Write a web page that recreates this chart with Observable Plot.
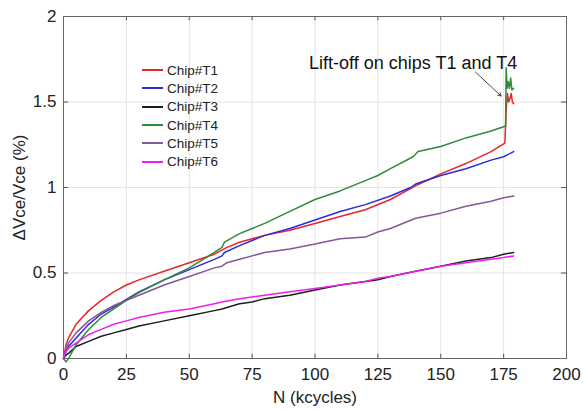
<!DOCTYPE html>
<html>
<head>
<meta charset="utf-8">
<script src="https://cdn.jsdelivr.net/npm/d3@7"></script>
<script src="https://cdn.jsdelivr.net/npm/@observablehq/plot@0.6"></script>
<style>
  body { margin: 0; background: #fff; font-family: "Liberation Sans", Arial, sans-serif; }
  #wrap { position: relative; width: 583px; height: 410px; }
  #legend { position: absolute; left: 142px; top: 61px; font-size: 13.5px; color: #222; }
  #legend div { display: flex; align-items: center; height: 18.3px; }
  #legend span.sw { display: inline-block; width: 21px; height: 0; border-top: 2px solid; margin-right: 4px; }
</style>
</head>
<body>
<div id="wrap"><div id="legend"></div></div>
<script>
const seriesNames = ["Chip#T1", "Chip#T2", "Chip#T3", "Chip#T4", "Chip#T5", "Chip#T6"];
const seriesColors = ["#e8262a", "#2b2bdc", "#1e1e1e", "#2e8b3a", "#84569a", "#f01cf0"];

const t1x = [0, 1, 2, 5, 10, 15, 20, 25, 30, 40, 50, 60, 65, 70, 75, 80, 90, 100, 110, 120, 130, 140, 150, 160, 170, 175.5, 176, 176.5, 177, 177.5, 178, 178.5, 179];
const t1y = [0, 0.08, 0.12, 0.2, 0.28, 0.34, 0.39, 0.43, 0.46, 0.51, 0.56, 0.61, 0.65, 0.68, 0.70, 0.72, 0.75, 0.79, 0.83, 0.87, 0.93, 1.01, 1.08, 1.14, 1.21, 1.26, 1.45, 1.55, 1.50, 1.52, 1.55, 1.50, 1.49];

const t2x = [0, 1, 2, 5, 10, 15, 20, 25, 30, 40, 50, 60, 63, 64, 70, 75, 80, 90, 100, 110, 120, 130, 138, 140, 150, 160, 170, 175, 179];
const t2y = [0, 0.04, 0.07, 0.12, 0.20, 0.26, 0.30, 0.345, 0.39, 0.46, 0.52, 0.58, 0.60, 0.62, 0.66, 0.69, 0.72, 0.76, 0.81, 0.86, 0.90, 0.95, 1.0, 1.02, 1.07, 1.11, 1.16, 1.18, 1.21];

const t3x = [0, 1, 2, 5, 10, 15, 20, 25, 30, 40, 50, 60, 63, 70, 75, 80, 90, 100, 110, 120, 125, 130, 140, 150, 160, 170, 175, 179];
const t3y = [0, 0.02, 0.03, 0.07, 0.10, 0.13, 0.15, 0.17, 0.19, 0.22, 0.25, 0.28, 0.29, 0.32, 0.33, 0.35, 0.37, 0.40, 0.43, 0.45, 0.46, 0.48, 0.51, 0.54, 0.57, 0.59, 0.61, 0.62];

const t4x = [0, 1, 2, 5, 10, 15, 20, 25, 30, 40, 50, 60, 63, 64, 70, 75, 80, 90, 100, 110, 120, 125, 130, 139, 141, 150, 160, 170, 175, 175.8, 176, 176.4, 176.8, 177.3, 177.8, 178.3, 179];
const t4y = [0, -0.02, 0.0, 0.08, 0.17, 0.24, 0.29, 0.34, 0.385, 0.46, 0.53, 0.62, 0.65, 0.68, 0.73, 0.76, 0.79, 0.86, 0.93, 0.98, 1.04, 1.07, 1.11, 1.18, 1.21, 1.24, 1.29, 1.33, 1.355, 1.36, 1.70, 1.58, 1.62, 1.58, 1.64, 1.57, 1.58];

const t5x = [0, 1, 2, 5, 10, 15, 20, 25, 30, 40, 50, 60, 63, 65, 70, 75, 80, 90, 100, 110, 120, 125, 130, 140, 150, 160, 170, 175, 179];
const t5y = [0, 0.06, 0.09, 0.15, 0.22, 0.27, 0.31, 0.34, 0.37, 0.43, 0.48, 0.53, 0.54, 0.56, 0.58, 0.60, 0.62, 0.64, 0.67, 0.70, 0.71, 0.74, 0.76, 0.82, 0.85, 0.89, 0.92, 0.94, 0.95];

const t6x = [0, 1, 2, 5, 10, 15, 20, 25, 30, 40, 50, 60, 63, 70, 75, 80, 90, 100, 110, 120, 125, 130, 140, 150, 160, 170, 175, 179];
const t6y = [0, 0.04, 0.06, 0.09, 0.14, 0.17, 0.20, 0.22, 0.24, 0.27, 0.29, 0.32, 0.33, 0.35, 0.36, 0.37, 0.39, 0.41, 0.43, 0.45, 0.47, 0.48, 0.51, 0.54, 0.56, 0.58, 0.59, 0.60];

const xTicks = [0, 25, 50, 75, 100, 125, 150, 175, 200];
const yTicks = [0, 0.5, 1, 1.5, 2];
const yTickLabels = ["0", "0.5", "1", "1.5", "2"];

const annotation = [{x: 139, y: 1.725, text: "Lift-off on chips T1 and T4"}];
const arrowData = [{x1: 163.8, y1: 1.675, x2: 174, y2: 1.535}];

const allX = [t1x, t2x, t3x, t4x, t5x, t6x];
const allY = [t1y, t2y, t3y, t4y, t5y, t6y];
const data = [];
seriesNames.forEach((name, i) => {
  allX[i].forEach((x, j) => data.push({series: name, x, y: allY[i][j]}));
});

const chart = Plot.plot({
  width: 583,
  height: 410,
  marginLeft: 63,
  marginRight: 17,
  marginTop: 16,
  marginBottom: 52,
  style: {fontFamily: "Liberation Sans, Arial, sans-serif", fontSize: "17px", color: "#222", background: "#fff"},
  x: {domain: [0, 200], ticks: xTicks},
  y: {domain: [0, 2], ticks: yTicks},
  color: {domain: seriesNames, range: seriesColors},
  marks: [
    Plot.ruleX(xTicks, {stroke: "#e4e4e4", strokeWidth: 1}),
    Plot.ruleY(yTicks, {stroke: "#e4e4e4", strokeWidth: 1}),
    Plot.ruleX(xTicks, {y1: 0, y2: 0.025, stroke: "#555"}),
    Plot.ruleX(xTicks, {y1: 1.975, y2: 2, stroke: "#555"}),
    Plot.ruleY(yTicks, {x1: 0, x2: 2, stroke: "#555"}),
    Plot.ruleY(yTicks, {x1: 198, x2: 200, stroke: "#555"}),
    Plot.frame({stroke: "#666", strokeWidth: 1}),
    Plot.axisX({ticks: xTicks, tickSize: 0, tickPadding: 9, label: "N (kcycles)", labelAnchor: "center", labelArrow: "none", labelOffset: 44, fontSize: 17}),
    Plot.axisY({ticks: yTicks, tickSize: 0, tickPadding: 7, tickFormat: (d, i) => yTickLabels[i], label: "ΔVce/Vce (%)", labelAnchor: "center", labelArrow: "none", labelOffset: 51, fontSize: 17}),
    Plot.line(data, {x: "x", y: "y", z: "series", stroke: "series", strokeWidth: 1.5, curve: "linear"}),
    Plot.text(annotation, {x: "x", y: "y", text: "text", fontSize: 18, fill: "#111"}),
    Plot.arrow(arrowData, {x1: "x1", y1: "y1", x2: "x2", y2: "y2", stroke: "#333", strokeWidth: 0.9, headLength: 6})
  ]
});
document.getElementById("wrap").prepend(chart);

const legend = document.getElementById("legend");
seriesNames.forEach((name, i) => {
  const row = document.createElement("div");
  const sw = document.createElement("span");
  sw.className = "sw";
  sw.style.borderTopColor = seriesColors[i];
  row.appendChild(sw);
  row.appendChild(document.createTextNode(name));
  legend.appendChild(row);
});
</script>
</body>
</html>
